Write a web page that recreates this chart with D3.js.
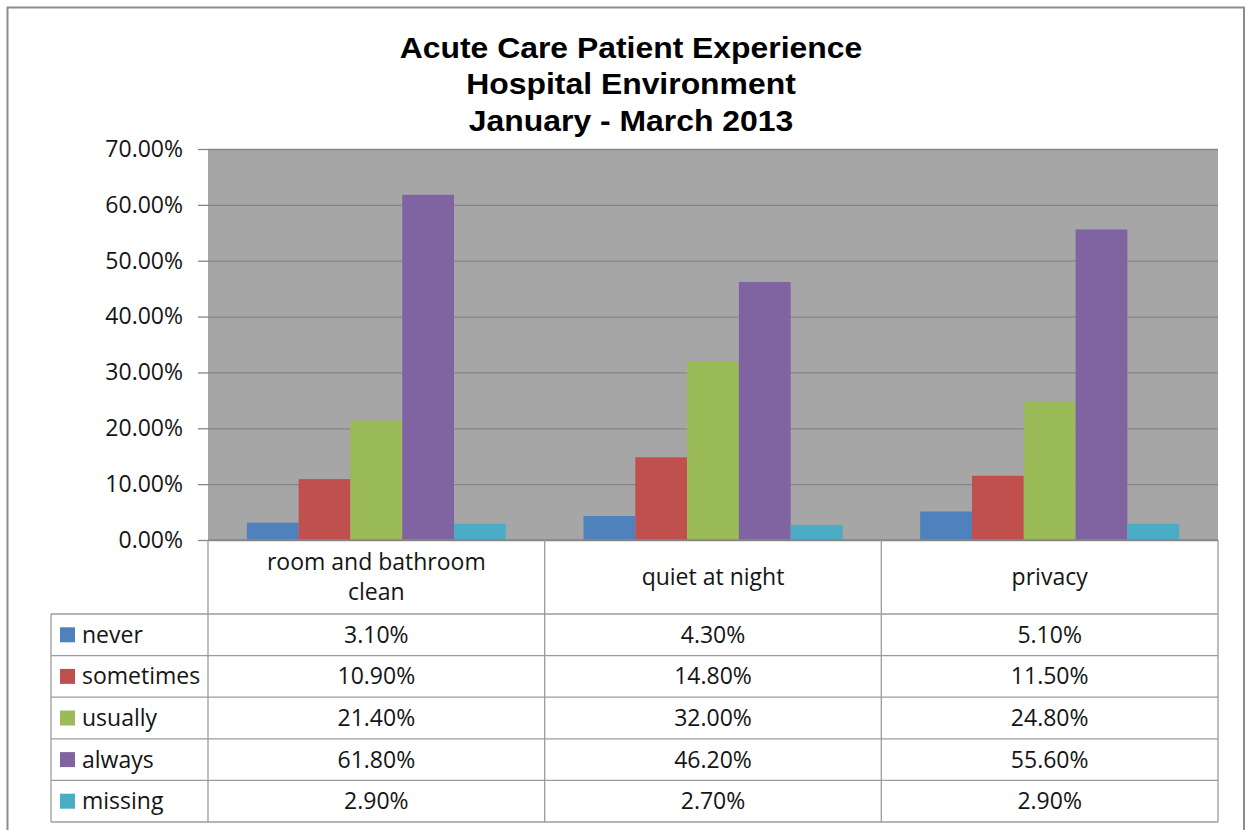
<!DOCTYPE html>
<html>
<head>
<meta charset="utf-8">
<script src="https://cdn.jsdelivr.net/npm/d3@7/dist/d3.min.js"></script>
<style>
  html, body { margin: 0; padding: 0; background: #fff; }
  svg { display: block; }
</style>
</head>
<body>
<svg id="chart" width="1246" height="830"></svg>
<script>
// ---- data ----
const titleLines = ["Acute Care Patient Experience", "Hospital Environment", "January - March 2013"];
const categories = ["room and bathroom clean", "quiet at night", "privacy"];
const seriesNames = ["never", "sometimes", "usually", "always", "missing"];
const seriesColors = ["#4F81BD", "#C0504D", "#9BBB59", "#8064A2", "#4BACC6"];
const never     = [0.031, 0.043, 0.051];
const sometimes = [0.109, 0.148, 0.115];
const usually   = [0.214, 0.320, 0.248];
const always    = [0.618, 0.462, 0.556];
const missing   = [0.029, 0.027, 0.029];
const yTicks = [0, 0.1, 0.2, 0.3, 0.4, 0.5, 0.6, 0.7];

const seriesValues = [never, sometimes, usually, always, missing];
const series = seriesNames.map((name, i) => ({ name, color: seriesColors[i], values: seriesValues[i] }));

// ---- layout ----
const svg = d3.select("#chart");
const plot = { left: 208, right: 1218, top: 149, bottom: 540 };
const tableLeft = 51;
const headerBottom = 614;
const rowH = (822 - 614) / 5;
const textFont = "'Open Sans', sans-serif";
const textSize = 23;
const textColor = "#151515";
const gridColor = "#868686";
const tableLine = "#9C9C9C";

// outer chart border
svg.append("rect")
  .attr("x", 7.5).attr("y", 7.5)
  .attr("width", 1244 - 7.5).attr("height", 840)
  .attr("fill", "#fff").attr("stroke", "#8C8C8C").attr("stroke-width", 2);

// title
const title = svg.append("text")
  .attr("text-anchor", "middle")
  .attr("font-family", "'Liberation Sans', Arial, sans-serif")
  .attr("font-weight", "bold")
  .attr("font-size", 29)
  .attr("fill", "#000")
  .attr("transform", "translate(631,0) scale(1.1,1)");
titleLines.forEach((t, i) => {
  title.append("tspan").attr("x", 0).attr("y", 58 + i * 36.5).text(t);
});

// scales
const x0 = d3.scaleBand().domain(categories).range([plot.left, plot.right]).paddingInner(0).paddingOuter(0);
const bandW = x0.bandwidth();
const barW = bandW / 6.5;
const x1 = d3.scaleBand().domain(seriesNames)
  .range([0.75 * barW, bandW - 0.75 * barW]).padding(0);
const y = d3.scaleLinear().domain([0, 0.7]).range([plot.bottom, plot.top]);

// plot background
svg.append("rect")
  .attr("x", plot.left).attr("y", plot.top)
  .attr("width", plot.right - plot.left).attr("height", plot.bottom - plot.top)
  .attr("fill", "#A6A6A6");

// y axis with gridlines
const yAxis = d3.axisLeft(y).tickValues(yTicks).tickFormat(d3.format(".2%")).tickSize(10).tickPadding(15);
const gy = svg.append("g").attr("transform", `translate(${plot.left},0)`).call(yAxis);
gy.select(".domain").remove();
gy.selectAll(".tick line").attr("stroke", gridColor).attr("stroke-width", 1.3);
gy.selectAll(".tick text")
  .attr("font-family", textFont).attr("font-size", textSize).attr("fill", textColor);

const grid = d3.axisLeft(y).tickValues(yTicks).tickSize(-(plot.right - plot.left)).tickFormat("");
const gg = svg.append("g").attr("transform", `translate(${plot.left},0)`).call(grid);
gg.select(".domain").remove();
gg.selectAll(".tick line").attr("stroke", gridColor).attr("stroke-width", 1.3);

// bars
const catG = svg.append("g").selectAll("g").data(categories).join("g")
  .attr("transform", d => `translate(${x0(d)},0)`);
catG.selectAll("rect")
  .data((c, ci) => series.map(s => ({ name: s.name, color: s.color, v: s.values[ci] })))
  .join("rect")
  .attr("x", d => x1(d.name))
  .attr("width", x1.bandwidth())
  .attr("y", d => y(d.v))
  .attr("height", d => y(0) - y(d.v))
  .attr("fill", d => d.color);

// ---- data table ----
const tbl = svg.append("g").attr("stroke", tableLine).attr("stroke-width", 1.3).attr("fill", "none");
const hYs = [plot.bottom];
for (let i = 0; i <= 5; i++) hYs.push(headerBottom + i * rowH);
hYs.forEach((yy, i) => {
  tbl.append("line")
    .attr("x1", i === 0 ? plot.left : tableLeft).attr("x2", plot.right)
    .attr("y1", yy).attr("y2", yy)
    .attr("stroke", i === 0 ? gridColor : tableLine);
});
const vXs = [plot.left].concat(categories.map(c => x0(c) + bandW));
vXs.forEach(xx => {
  tbl.append("line").attr("x1", xx).attr("x2", xx).attr("y1", plot.bottom).attr("y2", headerBottom + 5 * rowH);
});
tbl.append("line").attr("x1", tableLeft).attr("x2", tableLeft).attr("y1", headerBottom).attr("y2", headerBottom + 5 * rowH);

// category headers (wrapped)
const headerG = svg.append("g")
  .attr("font-family", textFont).attr("font-size", textSize).attr("fill", textColor)
  .attr("text-anchor", "middle");
categories.forEach(c => {
  const t = headerG.append("text");
  const words = c.split(" ");
  const lines = [];
  let cur = [];
  const probe = headerG.append("text");
  words.forEach(w => {
    const test = cur.concat([w]).join(" ");
    probe.text(test);
    if (probe.node().getComputedTextLength() > 240 && cur.length) {
      lines.push(cur.join(" "));
      cur = [w];
    } else cur.push(w);
  });
  lines.push(cur.join(" "));
  probe.remove();
  const cx = x0(c) + bandW / 2;
  const lh = 30;
  const midY = (plot.bottom + headerBottom) / 2;
  const firstBase = midY + 8 - (lines.length - 1) * lh / 2;
  lines.forEach((ln, i) => {
    t.append("tspan").attr("x", cx).attr("y", firstBase + i * lh).text(ln);
  });
});

// rows: legend keys, names, values
const fmt = d3.format(".2%");
const rowG = svg.append("g").selectAll("g").data(series).join("g")
  .attr("transform", (d, i) => `translate(0,${headerBottom + i * rowH})`);
rowG.append("rect")
  .attr("x", 60).attr("y", rowH / 2 - 7.5)
  .attr("width", 15).attr("height", 15)
  .attr("fill", d => d.color);
rowG.append("text")
  .attr("x", 82).attr("y", rowH / 2 + 8)
  .attr("font-family", textFont).attr("font-size", textSize).attr("fill", textColor)
  .text(d => d.name);
rowG.selectAll("text.val")
  .data(d => d.values.map((v, ci) => ({ v, c: categories[ci] })))
  .join("text").attr("class", "val")
  .attr("x", d => x0(d.c) + bandW / 2)
  .attr("y", rowH / 2 + 8)
  .attr("text-anchor", "middle")
  .attr("font-family", textFont).attr("font-size", textSize).attr("fill", textColor)
  .text(d => fmt(d.v));
</script>
</body>
</html>
